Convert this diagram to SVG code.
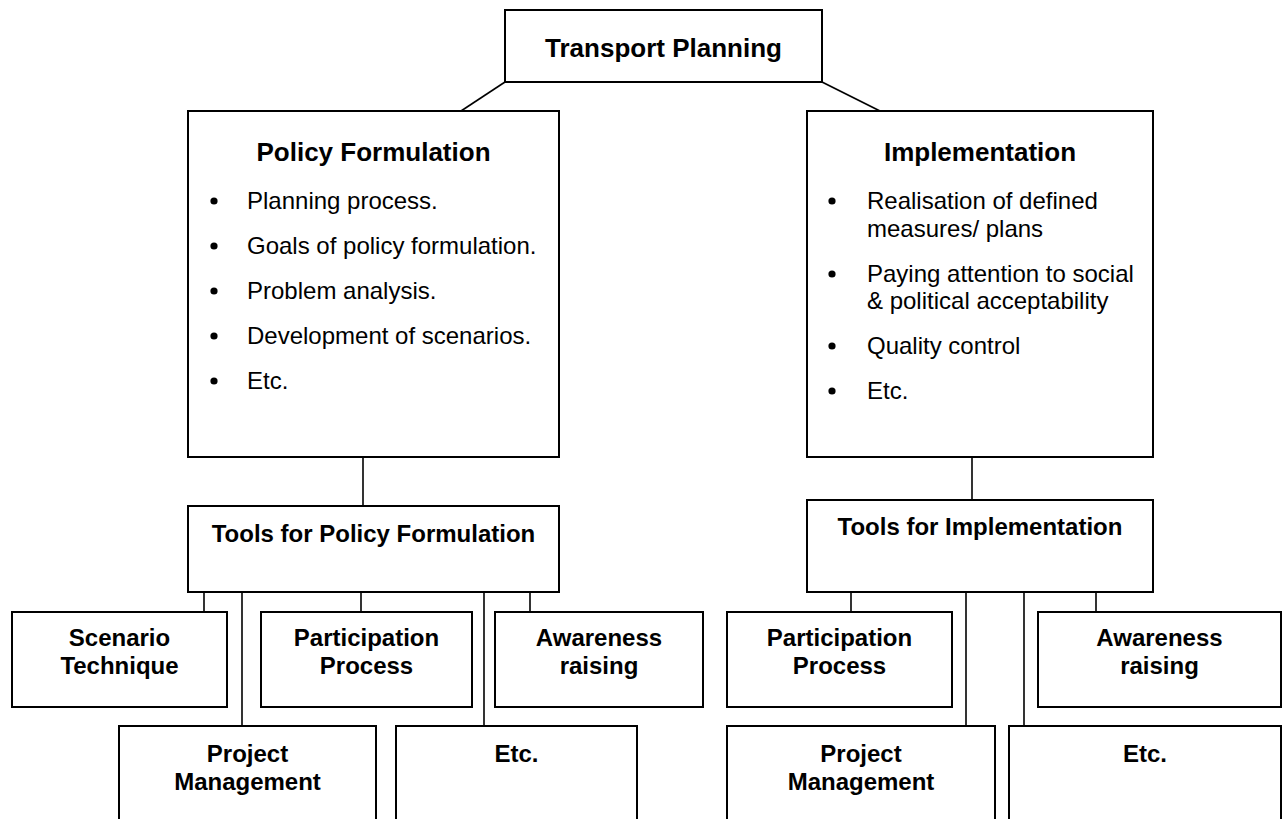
<svg xmlns="http://www.w3.org/2000/svg" width="1285" height="819" viewBox="0 0 1285 819">
<style>
.box{fill:#fff;stroke:#000;stroke-width:2}
.ln{stroke:#000;stroke-width:1.6;fill:none}
.t{font-family:"Liberation Sans",Arial,sans-serif;fill:#000}
.h1{font-size:26px;font-weight:bold}
.h2{font-size:24px;font-weight:bold}
.tx{font-size:24px}
.c{text-anchor:middle}
</style>
<rect width="1285" height="819" fill="#fff"/>
<g id="connectors">
<line class="ln" x1="505" y1="82" x2="461" y2="111"/>
<line class="ln" x1="822" y1="82" x2="880" y2="111"/>
<line class="ln" x1="363" y1="457" x2="363" y2="506"/>
<line class="ln" x1="972" y1="457" x2="972" y2="500"/>
<line class="ln" x1="204" y1="592" x2="204" y2="612"/>
<line class="ln" x1="242" y1="592" x2="242" y2="726"/>
<line class="ln" x1="361" y1="592" x2="361" y2="612"/>
<line class="ln" x1="484" y1="592" x2="484" y2="726"/>
<line class="ln" x1="530" y1="592" x2="530" y2="612"/>
<line class="ln" x1="851" y1="592" x2="851" y2="612"/>
<line class="ln" x1="966" y1="592" x2="966" y2="726"/>
<line class="ln" x1="1024" y1="592" x2="1024" y2="726"/>
<line class="ln" x1="1096" y1="592" x2="1096" y2="612"/>
</g>
<g id="transport-planning">
<rect class="box" x="505" y="10" width="317" height="72"/>
<text class="t h1 c" x="663.5" y="57">Transport Planning</text>
</g>
<g id="policy-formulation">
<rect class="box" x="188" y="111" width="371" height="346"/>
<text class="t h1 c" x="373.5" y="161">Policy Formulation</text>
<g fill="#000">
<circle cx="214" cy="201" r="3.6"/><circle cx="214" cy="246" r="3.6"/><circle cx="214" cy="291" r="3.6"/><circle cx="214" cy="336" r="3.6"/><circle cx="214" cy="381" r="3.6"/>
</g>
<text class="t tx" x="247" y="209">Planning process.</text>
<text class="t tx" x="247" y="254">Goals of policy formulation.</text>
<text class="t tx" x="247" y="299">Problem analysis.</text>
<text class="t tx" x="247" y="344">Development of scenarios.</text>
<text class="t tx" x="247" y="389">Etc.</text>
</g>
<g id="implementation">
<rect class="box" x="807" y="111" width="346" height="346"/>
<text class="t h1 c" x="980" y="161">Implementation</text>
<g fill="#000">
<circle cx="832" cy="201" r="3.6"/><circle cx="832" cy="274" r="3.6"/><circle cx="832" cy="346" r="3.6"/><circle cx="832" cy="391" r="3.6"/>
</g>
<text class="t tx" x="867" y="209">Realisation of defined</text>
<text class="t tx" x="867" y="236.5">measures/ plans</text>
<text class="t tx" x="867" y="281.5">Paying attention to social</text>
<text class="t tx" x="867" y="309">&amp; political acceptability</text>
<text class="t tx" x="867" y="354">Quality control</text>
<text class="t tx" x="867" y="399">Etc.</text>
</g>
<g id="tools-policy">
<rect class="box" x="188" y="506" width="371" height="86"/>
<text class="t h2 c" x="373.5" y="542">Tools for Policy Formulation</text>
</g>
<g id="tools-implementation">
<rect class="box" x="807" y="500" width="346" height="92"/>
<text class="t h2 c" x="980" y="535">Tools for Implementation</text>
</g>
<g id="pf-scenario">
<rect class="box" x="12" y="612" width="215" height="95"/>
<text class="t h2 c" x="119.5" y="646">Scenario</text>
<text class="t h2 c" x="119.5" y="674">Technique</text>
</g>
<g id="pf-participation">
<rect class="box" x="261" y="612" width="211" height="95"/>
<text class="t h2 c" x="366.5" y="646">Participation</text>
<text class="t h2 c" x="366.5" y="674">Process</text>
</g>
<g id="pf-awareness">
<rect class="box" x="495" y="612" width="208" height="95"/>
<text class="t h2 c" x="599" y="646">Awareness</text>
<text class="t h2 c" x="599" y="674">raising</text>
</g>
<g id="pf-project">
<rect class="box" x="119" y="726" width="257" height="110"/>
<text class="t h2 c" x="247.5" y="762">Project</text>
<text class="t h2 c" x="247.5" y="790">Management</text>
</g>
<g id="pf-etc">
<rect class="box" x="396" y="726" width="241" height="110"/>
<text class="t h2 c" x="516.5" y="762">Etc.</text>
</g>
<g id="im-participation">
<rect class="box" x="727" y="612" width="225" height="95"/>
<text class="t h2 c" x="839.5" y="646">Participation</text>
<text class="t h2 c" x="839.5" y="674">Process</text>
</g>
<g id="im-awareness">
<rect class="box" x="1038" y="612" width="243" height="95"/>
<text class="t h2 c" x="1159.5" y="646">Awareness</text>
<text class="t h2 c" x="1159.5" y="674">raising</text>
</g>
<g id="im-project">
<rect class="box" x="727" y="726" width="268" height="110"/>
<text class="t h2 c" x="861" y="762">Project</text>
<text class="t h2 c" x="861" y="790">Management</text>
</g>
<g id="im-etc">
<rect class="box" x="1009" y="726" width="272" height="110"/>
<text class="t h2 c" x="1145" y="762">Etc.</text>
</g>
</svg>
